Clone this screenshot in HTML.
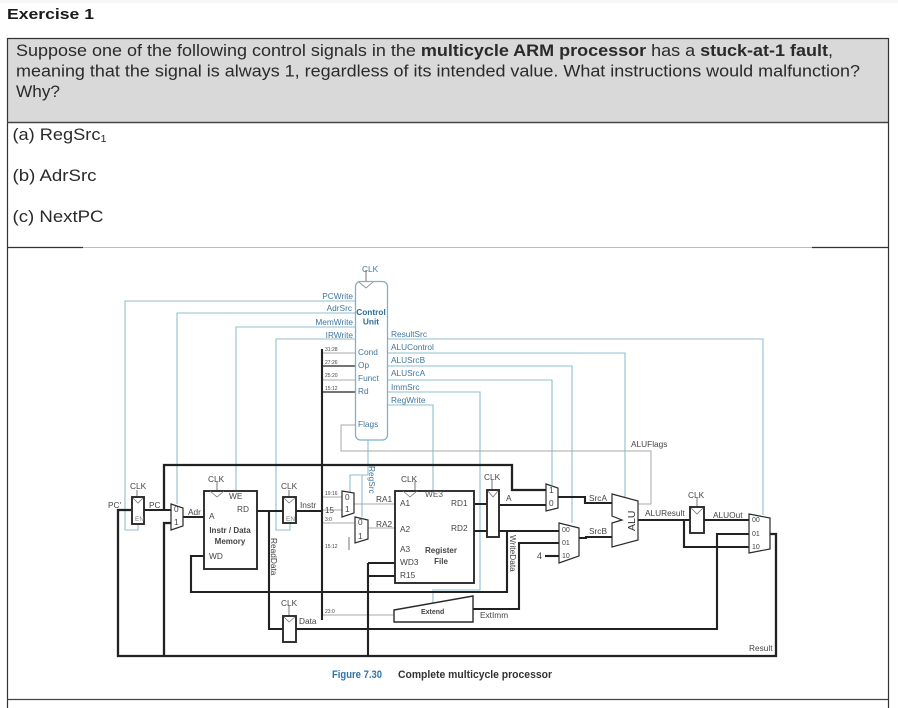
<!DOCTYPE html>
<html><head><meta charset="utf-8">
<style>
html,body{margin:0;padding:0;background:#fff;width:898px;height:708px;overflow:hidden}
svg{display:block;position:absolute;left:0;top:0}
.t{font-family:"Liberation Sans",Arial,sans-serif}
</style></head>
<body>
<svg width="898" height="708" viewBox="0 0 898 708" xmlns="http://www.w3.org/2000/svg">
<defs><filter id="b" filterUnits="userSpaceOnUse" x="0" y="250" width="898" height="445"><feGaussianBlur stdDeviation="0.35"/></filter></defs>
<rect x="0" y="0" width="898" height="3" fill="#f7f7f7"/>
<rect x="7" y="38" width="881" height="84" fill="#d9d9d9"/>
<g stroke="#333" fill="none">
<path d="M7.500 38.500H888.500M7.500 38V708M888.500 38V708" stroke-width="1.200"/>
<path d="M7 122.500H888" stroke="#444" stroke-width="1.400"/>
<path d="M7 247.500H83M812 247.500H888" stroke-width="1.200"/>
<path d="M83 247.500H812" stroke="#bbb" stroke-width="1"/>
<path d="M7 699.500H888" stroke="#444" stroke-width="1.200"/>
</g>
<g class="t" fill="#2a2a2a">
<text x="7" y="19" font-size="14.800" font-weight="bold" fill="#1a1a1a" textLength="87" lengthAdjust="spacingAndGlyphs">Exercise 1</text>
<text x="16" y="56" font-size="16.800" textLength="817" lengthAdjust="spacingAndGlyphs">Suppose one of the following control signals in the <tspan font-weight="bold">multicycle ARM processor</tspan> has a <tspan font-weight="bold">stuck-at-1 fault</tspan>,</text>
<text x="16" y="76.500" font-size="16.800" textLength="844" lengthAdjust="spacingAndGlyphs">meaning that the signal is always 1, regardless of its intended value. What instructions would malfunction?</text>
<text x="16" y="97" font-size="16.800" textLength="44" lengthAdjust="spacingAndGlyphs">Why?</text>
<text x="12.500" y="140" font-size="16.800" textLength="94" lengthAdjust="spacingAndGlyphs">(a) RegSrc<tspan font-size="10" dy="2">1</tspan></text>
<text x="12.500" y="181" font-size="16.800" textLength="84" lengthAdjust="spacingAndGlyphs">(b) AdrSrc</text>
<text x="12.500" y="222" font-size="16.800" textLength="91" lengthAdjust="spacingAndGlyphs">(c) NextPC</text>
</g>

<g filter="url(#b)">
<g fill="none" stroke-linejoin="miter">
<g stroke="#8fc0cf" stroke-width="1.100">
<path d="M355 301H125V530H138V524"/>
<path d="M355 313H177V504"/>
<path d="M355 327H236V491"/>
<path d="M355 339H276V530H290V523"/>
<path d="M388 339H763V515"/>
<path d="M388 353H625V497"/>
<path d="M388 366H572V523"/>
<path d="M388 380H552V485"/>
<path d="M388 392H480V590H433V603"/>
<path d="M388 405H433V491"/>
<path d="M368 440V475H350V492M362 475V517"/>
</g>
<g stroke="#a8a8a8" stroke-width="1">
<path d="M355 425H341V451H651V504H637"/>
<path d="M322 353H355M322 380H355"/>
<path d="M322 497H342M322 523H355M322 510H342"/>
<path d="M354 504H395M368 528H395"/>
<path d="M322 615H394"/>
<path d="M349 537V550" stroke="#777"/>
<path d="M366 270V281M137 490V497M217 482V491M289 490V497M415 481V491M492 480V490M697 498V507M289 606V616" stroke="#777"/>
</g>
<g stroke="#222" stroke-width="2.100">
<path d="M322 349V620"/>
<path d="M322 366H355M322 392H355" stroke-width="1.300"/>
<path d="M164 510V465H512V490H546" stroke-width="2.300"/>
<path d="M171 523H164V656" stroke-width="2.300"/>
<path d="M131 510H118V656H776V534H770" stroke-width="2.300"/>
<path d="M144 510H171M183 517H204"/>
<path d="M257 511H283M296 511H322"/>
<path d="M269 511V629H283M296 629H717V534H750"/>
<path d="M474 504H487M499 505H546"/>
<path d="M474 531H487M499 531H559"/>
<path d="M507 531V592H191V556H204"/>
<path d="M368 563H395M368 576H395M368 563V656"/>
<path d="M473 609H519V543H559"/>
<path d="M545 556H559"/>
<path d="M558 497H585V503H612"/>
<path d="M579 538H586V537H612"/>
<path d="M638 520H690M704 520H750"/>
<path d="M684 520V547H750"/>
</g>
</g>

<g fill="#fff" stroke="#2a2a2a">
<rect x="355.500" y="281.500" width="32" height="158.500" rx="5" fill="#fff" stroke="#7fb2c8" stroke-width="1.300"/>
<rect x="204" y="491" width="53" height="78" stroke-width="1.900"/>
<rect x="395" y="491" width="79" height="92" stroke-width="1.900"/>
<rect x="132" y="497" width="12" height="27" stroke-width="1.900"/>
<rect x="283" y="497" width="13" height="26" stroke-width="1.900"/>
<rect x="283" y="616" width="13" height="26" stroke-width="1.900"/>
<rect x="487" y="490" width="12" height="47" stroke-width="1.900"/>
<rect x="690" y="507" width="14" height="26" stroke-width="1.900"/>
<g stroke-width="1.200">
<path d="M171 504L183 508V526L171 530Z"/>
<path d="M342 491L354 493V513L342 517Z"/>
<path d="M355 517L368 520V539L355 543Z"/>
<path d="M546 484L558 488V508L546 511Z"/>
<path d="M559 523L579 528V556L559 563Z"/>
<path d="M749 514L770 518V549L749 553Z"/>
<path d="M612 494L638 501V540L612 547V523L622 520L612 516Z"/>
<path d="M394 610L473 596V622H394Z" stroke-width="1.400"/>
</g>
</g>
<g fill="none" stroke="#777" stroke-width="0.800">
<path d="M359 282L366 288L373 282M210 491L217 497L224 491M133 498L138 503L143 498M284 498L289 503L295 498M284 617L289 622L295 617M403 491L410 497L417 491M488 491L493 497L498 491M691 508L697 514L703 508"/>
</g>

<g class="t" fill="#444" font-size="8.300">
<text x="362" y="272" fill="#47799a">CLK</text>
<g fill="#41759c" text-anchor="end">
<text x="353" y="299">PCWrite</text><text x="352" y="311">AdrSrc</text><text x="353" y="325">MemWrite</text><text x="353" y="338">IRWrite</text>
</g>
<g fill="#2f6c96" font-weight="bold" text-anchor="middle"><text x="371" y="315">Control</text><text x="371" y="324.500">Unit</text></g>
<g fill="#41759c">
<text x="358" y="355">Cond</text><text x="358" y="368">Op</text><text x="358" y="381">Funct</text><text x="358" y="394">Rd</text><text x="358" y="427">Flags</text>
<text x="391" y="337">ResultSrc</text><text x="391" y="350">ALUControl</text><text x="391" y="363">ALUSrcB</text><text x="391" y="376">ALUSrcA</text><text x="391" y="390">ImmSrc</text><text x="391" y="403">RegWrite</text>
<text transform="translate(369,466) rotate(90)">RegSrc</text>
</g>
<g font-size="5">
<text x="325" y="351">31:28</text><text x="325" y="364">27:26</text><text x="325" y="377">25:20</text><text x="325" y="390">15:12</text>
<text x="325" y="495">19:16</text><text x="325" y="521">3:0</text><text x="325" y="548">15:12</text><text x="325" y="613">23:0</text>
</g>
<text x="631" y="447">ALUFlags</text>
<text x="130" y="489">CLK</text><text x="208" y="482">CLK</text><text x="281" y="489">CLK</text><text x="281" y="606">CLK</text><text x="401" y="482">CLK</text><text x="484" y="480">CLK</text><text x="688" y="498">CLK</text>
<text x="108" y="508">PC'</text><text x="149" y="508">PC</text><text x="188" y="515">Adr</text><text x="300" y="508">Instr</text><text x="299" y="624">Data</text>
<text x="135" y="521" font-size="6.500" fill="#777">EN</text><text x="286" y="521" font-size="6.500" fill="#777">EN</text>
<text x="174" y="512">0</text><text x="174" y="525">1</text>
<text x="345" y="500">0</text><text x="345" y="512">1</text><text x="358" y="525">0</text><text x="358" y="539">1</text>
<text x="325" y="513" font-size="8">15</text>
<text x="549" y="493">1</text><text x="549" y="506">0</text>
<text x="229" y="499">WE</text><text x="237" y="512">RD</text><text x="209" y="519">A</text><text x="209" y="559">WD</text>
<g font-weight="bold" text-anchor="middle" font-size="8"><text x="230" y="533">Instr / Data</text><text x="230" y="544">Memory</text></g>
<text x="425" y="497" fill="#555">WE3</text><text x="400" y="506">A1</text><text x="451" y="506">RD1</text><text x="400" y="532">A2</text><text x="451" y="531">RD2</text><text x="400" y="552">A3</text><text x="400" y="565">WD3</text><text x="400" y="578">R15</text>
<g font-weight="bold" text-anchor="middle" font-size="8"><text x="441" y="553">Register</text><text x="441" y="564">File</text></g>
<text x="376" y="502">RA1</text><text x="376" y="527">RA2</text><text x="506" y="501">A</text>
<text x="421" y="614" font-size="7" font-weight="bold">Extend</text><text x="480" y="618">ExtImm</text>
<text x="562" y="532" font-size="7">00</text><text x="562" y="545" font-size="7">01</text><text x="562" y="558" font-size="7">10</text>
<text x="537" y="559" font-size="9">4</text>
<text x="589" y="501">SrcA</text><text x="589" y="534">SrcB</text><text x="645" y="516">ALUResult</text><text x="713" y="518">ALUOut</text>
<text x="752" y="522" font-size="7">00</text><text x="752" y="536" font-size="7">01</text><text x="752" y="549" font-size="7">10</text>
<text x="749" y="651">Result</text>
<text transform="translate(635,531) rotate(-90)" font-size="10.500" fill="#333">ALU</text>
<text transform="translate(271,538) rotate(90)">ReadData</text>
<text transform="translate(510,535) rotate(90)">WriteData</text>
</g>
<text class="t" x="332" y="678" font-size="11" font-weight="bold" fill="#2f73a8" textLength="50" lengthAdjust="spacingAndGlyphs">Figure 7.30</text>
<text class="t" x="398" y="678" font-size="11" font-weight="bold" fill="#333" textLength="154" lengthAdjust="spacingAndGlyphs">Complete multicycle processor</text>
</g>
</svg>
</body></html>
